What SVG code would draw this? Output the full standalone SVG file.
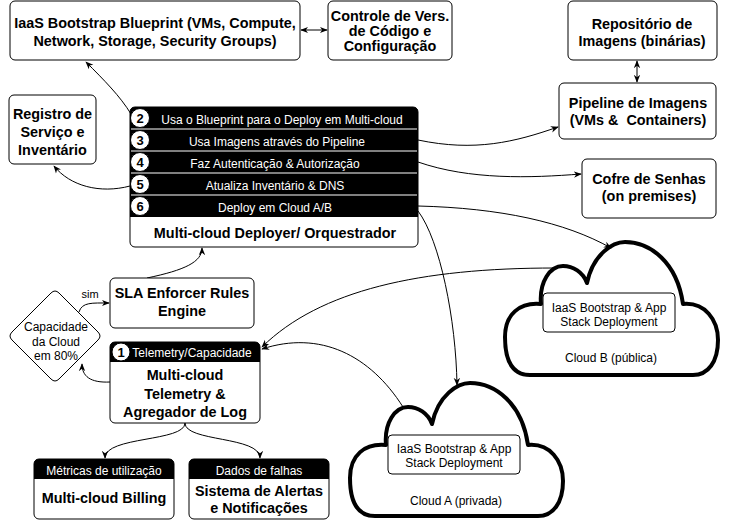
<svg xmlns="http://www.w3.org/2000/svg" width="734" height="520" viewBox="0 0 734 520">
<defs>
<style>
.box{fill:#fff;stroke:#000;stroke-width:1}
.hdr{fill:#000}
.b{font-family:"Liberation Sans",Arial,sans-serif;font-weight:bold;font-size:14.4px;text-anchor:middle;fill:#000}
.r{font-family:"Liberation Sans",Arial,sans-serif;font-size:12px;text-anchor:middle;fill:#000}
.w{fill:#fff}
.num{font-family:"Liberation Sans",Arial,sans-serif;font-weight:bold;font-size:13px;text-anchor:middle;fill:#000}
.circ{fill:#fff;stroke:#000;stroke-width:1}
.sep{stroke:#fff;stroke-width:1}
.edge{fill:none;stroke:#000;stroke-width:1;marker-end:url(#arr)}
.both{marker-start:url(#arr)}
.cloud{fill:#fff;stroke:#000;stroke-width:4;stroke-linejoin:round}
</style>
<marker id="arr" viewBox="0 0 10 10" refX="9" refY="5" markerWidth="8" markerHeight="8" markerUnits="userSpaceOnUse" orient="auto-start-reverse"><path d="M0,1 L10,5 L0,9 L3,5 Z" fill="#000"/></marker>
<path id="cloudShape" d="M25 133 C5 133 0 115 0 95 C0 72 15 60 36 62 C34 40 45 24 58 24 C68 24 78 30 82 41 C88 12 108 0 120 0 C145 0 172 20 178 62 C200 60 213 78 213 98 C213 120 203 133 188 133 Z"/>
</defs>
<rect width="734" height="520" fill="#fff"/>

<g id="cloudB">
<use href="#cloudShape" class="cloud" transform="translate(505,242)"/>
<rect class="box" x="543" y="293" width="132" height="39" rx="4"/>
<text class="r" x="609" y="311.5">IaaS Bootstrap &amp; App</text>
<text class="r" x="609" y="325.5">Stack Deployment</text>
<text class="r" x="611" y="362">Cloud B (pública)</text>
</g>

<g id="cloudA">
<use href="#cloudShape" class="cloud" transform="translate(350,383)"/>
<rect class="box" x="388" y="435" width="132" height="39" rx="4"/>
<text class="r" x="454" y="453">IaaS Bootstrap &amp; App</text>
<text class="r" x="454" y="467">Stack Deployment</text>
<text class="r" x="456" y="505">Cloud A (privada)</text>
</g>

<g id="connectors">
<path class="edge both" d="M301 30 H327"/>
<path class="edge both" d="M637 61 V82"/>
<path class="edge" d="M131 114 C120 96 104 80 86 62"/>
<path class="edge" d="M418 140 C475 152 515 142 558 127"/>
<path class="edge" d="M418 162 C470 180 530 178 581 174"/>
<path class="edge" d="M130 186 C100 194 70 186 54 166"/>
<path class="edge" d="M418 206 C500 208 565 222 611 248"/>
<path class="edge" d="M418 211 C440 240 456 320 457 385"/>
<path class="edge" d="M555 268 C420 268 320 290 262 347"/>
<path class="edge" d="M403 407 C370 355 320 330 262 349"/>
<path class="edge" d="M147 278 C185 270 202 262 202 248"/>
<path class="edge" d="M79 312 C82 302 92 303 109 303"/>
<path class="edge" d="M110 382 C90 383 82 376 82 364"/>
<path class="edge" d="M185 423 C185 442 105 436 105 458"/>
<path class="edge" d="M185 423 C185 442 260 436 260 458"/>
<text class="r" x="90" y="298" style="font-size:11px">sim</text>
</g>

<g id="blueprint">
<rect class="box" x="10" y="1" width="290" height="59" rx="5"/>
<text class="b" x="155" y="28">IaaS Bootstrap Blueprint (VMs, Compute,</text>
<text class="b" x="155" y="45.5">Network, Storage, Security Groups)</text>
</g>

<g id="controle">
<rect class="box" x="328" y="1" width="124" height="59" rx="5"/>
<text class="b" x="390" y="20.5">Controle de Vers.</text>
<text class="b" x="390" y="35.5">de Código e</text>
<text class="b" x="390" y="50.5">Configuração</text>
</g>

<g id="repositorio">
<rect class="box" x="568" y="1" width="149" height="59" rx="5"/>
<text class="b" x="642" y="28.5">Repositório de</text>
<text class="b" x="642" y="45.5">Imagens (binárias)</text>
</g>

<g id="pipeline">
<rect class="box" x="559" y="83" width="157" height="56" rx="5"/>
<text class="b" x="638" y="107.5">Pipeline de Imagens</text>
<text class="b" x="638" y="124.5" xml:space="preserve">(VMs &amp;  Containers)</text>
</g>

<g id="cofre">
<rect class="box" x="582" y="159" width="134" height="59" rx="5"/>
<text class="b" x="649" y="184">Cofre de Senhas</text>
<text class="b" x="649" y="201">(on premises)</text>
</g>

<g id="registro">
<rect class="box" x="9" y="95" width="87" height="69" rx="5"/>
<text class="b" x="52.5" y="119">Registro de</text>
<text class="b" x="52.5" y="137">Serviço e</text>
<text class="b" x="52.5" y="155">Inventário</text>
</g>

<g id="deployer">
<rect class="box" x="130" y="107" width="288" height="140" rx="5"/>
<path class="hdr" d="M130 217 V112 Q130 107 135 107 H413 Q418 107 418 112 V217 Z"/>
<line class="sep" x1="131" y1="129" x2="417" y2="129"/>
<line class="sep" x1="131" y1="151" x2="417" y2="151"/>
<line class="sep" x1="131" y1="173" x2="417" y2="173"/>
<line class="sep" x1="131" y1="195" x2="417" y2="195"/>
<circle class="circ" cx="140" cy="118" r="9.5"/>
<text class="num" x="140" y="122.5">2</text>
<text class="r w" x="282" y="123.5">Usa o Blueprint para o Deploy em Multi-cloud</text>
<circle class="circ" cx="140" cy="140" r="9.5"/>
<text class="num" x="140" y="144.5">3</text>
<text class="r w" x="277" y="145.5">Usa Imagens através do Pipeline</text>
<circle class="circ" cx="140" cy="162" r="9.5"/>
<text class="num" x="140" y="166.5">4</text>
<text class="r w" x="275" y="167.5">Faz Autenticação &amp; Autorização</text>
<circle class="circ" cx="140" cy="184" r="9.5"/>
<text class="num" x="140" y="188.5">5</text>
<text class="r w" x="275" y="189.5">Atualiza Inventário &amp; DNS</text>
<circle class="circ" cx="140" cy="206" r="9.5"/>
<text class="num" x="140" y="210.5">6</text>
<text class="r w" x="275" y="211.5">Deploy em Cloud A/B</text>
<text class="b" x="275" y="238">Multi-cloud Deployer/ Orquestrador</text>
</g>

<g id="sla">
<rect class="box" x="110" y="278" width="144" height="50" rx="5"/>
<text class="b" x="182" y="298">SLA Enforcer Rules</text>
<text class="b" x="182" y="315.5">Engine</text>
</g>

<g id="capacidade">
<path class="box" d="M51 293 Q55 289 59 293 L98 332 Q102 336 98 340 L59 379 Q55 383 51 379 L12 340 Q8 336 12 332 Z"/>
<text class="r" x="56" y="330.5">Capacidade</text>
<text class="r" x="56" y="346">da Cloud</text>
<text class="r" x="56" y="360">em 80%</text>
</g>

<g id="telemetry">
<rect class="box" x="110" y="342" width="150" height="81" rx="5"/>
<path class="hdr" d="M110 362 V347 Q110 342 115 342 H255 Q260 342 260 347 V362 Z"/>
<circle class="circ" cx="121" cy="352" r="9"/>
<text class="num" x="121" y="356.5">1</text>
<text class="r w" x="192" y="357">Telemetry/Capacidade</text>
<text class="b" x="185" y="380">Multi-cloud</text>
<text class="b" x="185" y="398.5">Telemetry &amp;</text>
<text class="b" x="185" y="417">Agregador de Log</text>
</g>

<g id="billing">
<rect class="box" x="34" y="459" width="140" height="60" rx="5"/>
<path class="hdr" d="M34 479 V464 Q34 459 39 459 H169 Q174 459 174 464 V479 Z"/>
<text class="r w" x="104" y="474.5">Métricas de utilização</text>
<text class="b" x="104" y="502.5">Multi-cloud Billing</text>
</g>

<g id="alertas">
<rect class="box" x="189" y="459" width="140" height="60" rx="5"/>
<path class="hdr" d="M189 479 V464 Q189 459 194 459 H324 Q329 459 329 464 V479 Z"/>
<text class="r w" x="259" y="474.5">Dados de falhas</text>
<text class="b" x="259" y="495.5">Sistema de Alertas</text>
<text class="b" x="259" y="512.5">e Notificações</text>
</g>
</svg>
